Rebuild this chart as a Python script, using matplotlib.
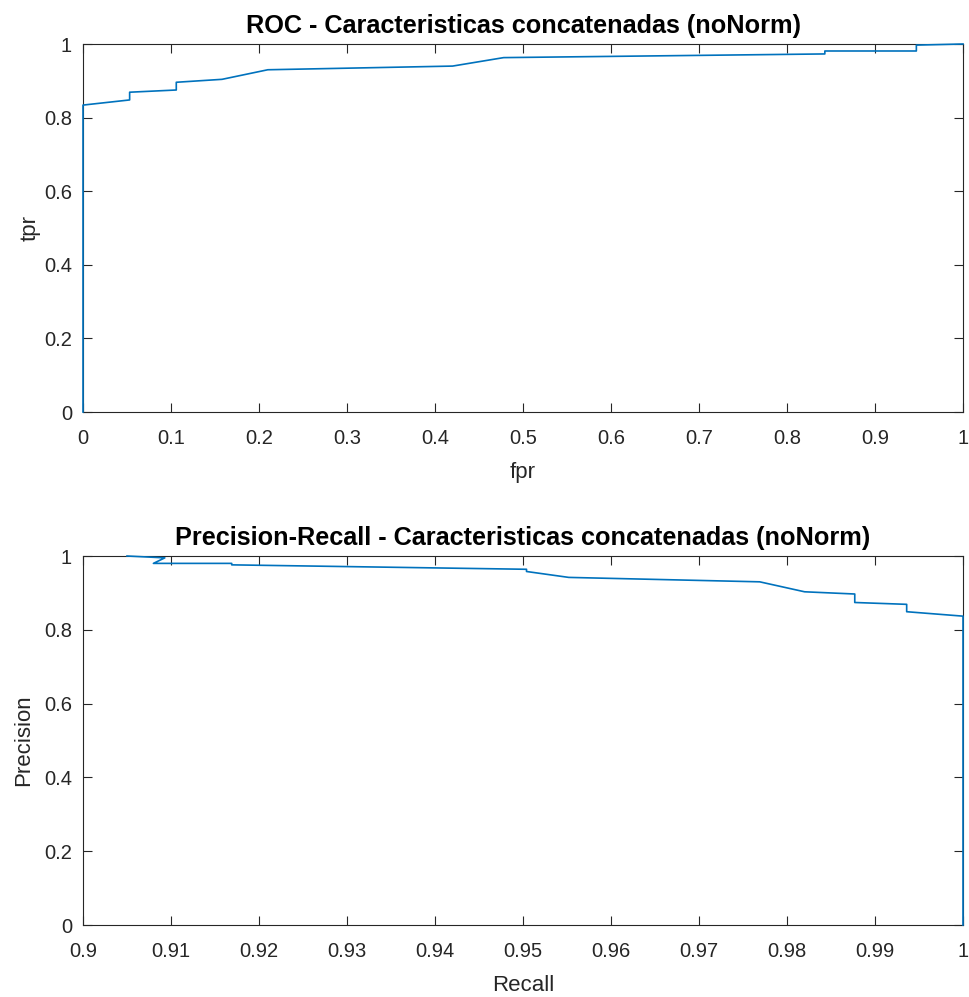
import matplotlib
matplotlib.use("Agg")
import matplotlib.pyplot as plt
from matplotlib.ticker import FuncFormatter

# ROC data
fpr = [0, 0, 0.053, 0.053, 0.106, 0.106, 0.158, 0.21, 0.42, 0.478, 0.843, 0.843, 0.947, 0.947, 1.0]
tpr = [0, 0.834, 0.848, 0.869, 0.875, 0.896, 0.904, 0.930, 0.940, 0.963, 0.973, 0.981, 0.981, 0.997, 1.0]

# Precision-Recall data
recall = [0.9050, 0.9093, 0.9080, 0.9169, 0.9169, 0.9504, 0.9504, 0.9552, 0.9769,
          0.9820, 0.9877, 0.9877, 0.9936, 0.9936, 1.0, 1.0]
precision = [1.0, 0.995, 0.980, 0.980, 0.976, 0.964, 0.958, 0.942, 0.930,
             0.903, 0.897, 0.874, 0.869, 0.849, 0.837, 0.0]

roc_xticks = [0, 0.1, 0.2, 0.3, 0.4, 0.5, 0.6, 0.7, 0.8, 0.9, 1.0]
pr_xticks = [0.9, 0.91, 0.92, 0.93, 0.94, 0.95, 0.96, 0.97, 0.98, 0.99, 1.0]
yticks = [0, 0.2, 0.4, 0.6, 0.8, 1.0]

plt.rcParams['font.family'] = ['Liberation Sans', 'DejaVu Sans']

W, H = 969, 997
fig = plt.figure(figsize=(W / 100, H / 100), dpi=100)

axcol = '#262626'
linecol = '#0072BD'
fmt = FuncFormatter(lambda v, p: ('%g' % round(v, 4)))


def style(ax):
    for s in ax.spines.values():
        s.set_color(axcol)
        s.set_linewidth(0.8)
    ax.tick_params(direction='in', length=6.5, width=0.8, color=axcol,
                   top=True, right=True, labelsize=14.5, labelcolor=axcol)
    ax.tick_params(axis='x', pad=12)
    ax.tick_params(axis='y', pad=8)
    ax.xaxis.set_major_formatter(fmt)
    ax.yaxis.set_major_formatter(fmt)


l, r = 83 / W, 963 / W
ax1 = fig.add_axes([l, 1 - 412 / H, r - l, (412 - 44) / H])
ax1.plot(fpr, tpr, color=linecol, lw=1.2, clip_on=False, zorder=3)
ax1.set_xlim(0, 1)
ax1.set_ylim(0, 1)
ax1.set_xticks(roc_xticks)
ax1.set_yticks(yticks)
style(ax1)
ax1.set_title('ROC - Caracteristicas concatenadas (noNorm)', fontsize=18.2,
              fontweight='bold', color='black', pad=8)
ax1.set_xlabel('fpr', fontsize=16, color=axcol, labelpad=10)
ax1.set_ylabel('tpr', fontsize=16, color=axcol)
ax1.yaxis.set_label_coords(-0.048, 0.5)

ax2 = fig.add_axes([l, 1 - 925 / H, r - l, (925 - 556) / H])
ax2.plot(recall, precision, color=linecol, lw=1.2, clip_on=False, zorder=3)
ax2.set_xlim(0.9, 1)
ax2.set_ylim(0, 1)
ax2.set_xticks(pr_xticks)
ax2.set_yticks(yticks)
style(ax2)
ax2.set_title('Precision-Recall - Caracteristicas concatenadas (noNorm)', fontsize=18.2,
              fontweight='bold', color='black', pad=8)
ax2.set_xlabel('Recall', fontsize=16, color=axcol, labelpad=10)
ax2.set_ylabel('Precision', fontsize=16, color=axcol)
ax2.yaxis.set_label_coords(-0.055, 0.5)

fig.savefig('out.png', dpi=100)
